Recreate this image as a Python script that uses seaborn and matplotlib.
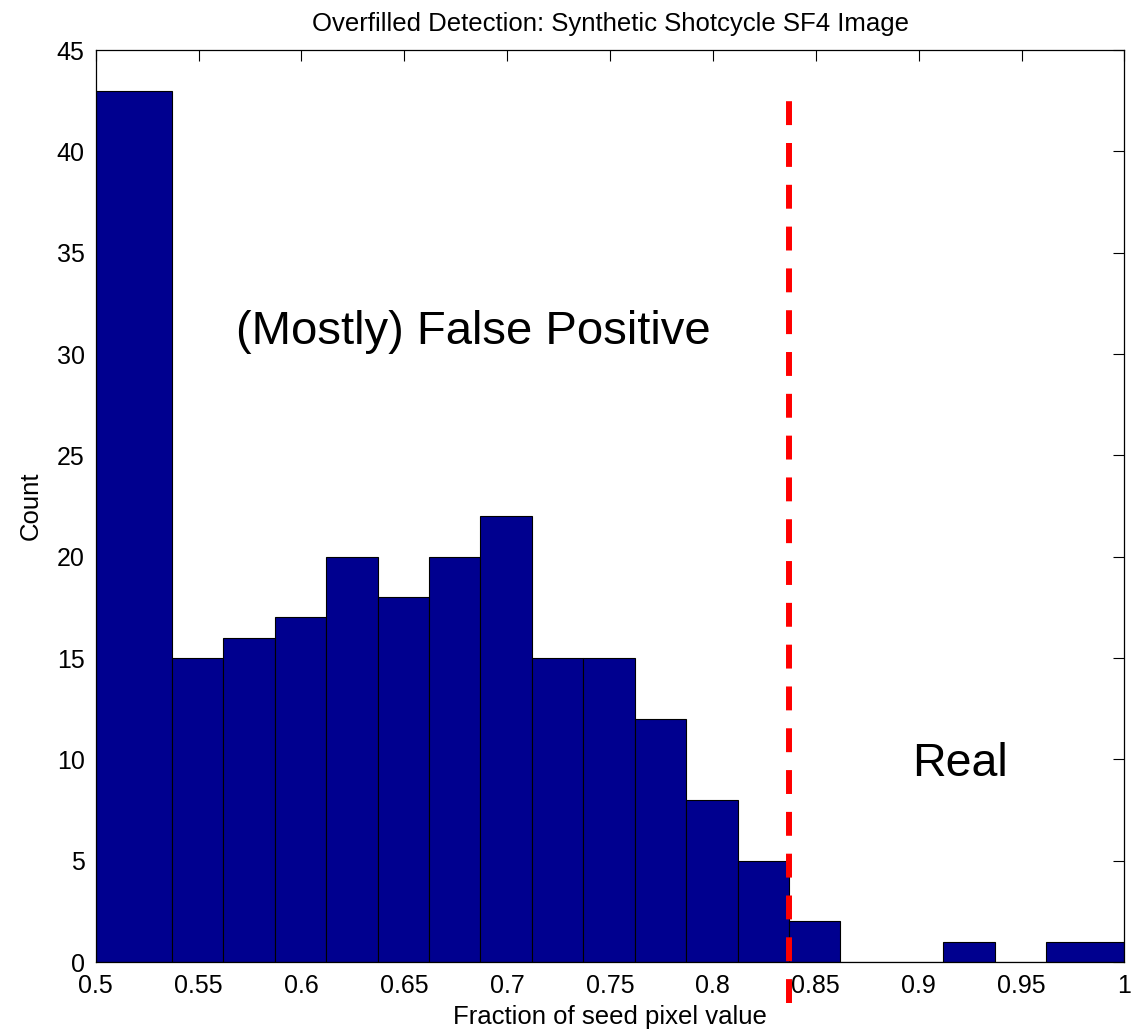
import numpy as np
import pandas as pd
import matplotlib
matplotlib.use("Agg")
import matplotlib.pyplot as plt
import seaborn as sns

# Histogram bin edges and counts (fraction of seed pixel value)
bin_edges = [0.5, 0.537, 0.562, 0.587, 0.612, 0.637, 0.662, 0.687, 0.712,
             0.737, 0.762, 0.787, 0.812, 0.837, 0.862, 0.887, 0.912, 0.937,
             0.962, 1.0]
counts = [43, 15, 16, 17, 20, 18, 20, 22, 15, 15, 12, 8, 5, 2, 0, 0, 1, 0, 1]

threshold = 0.837
threshold_span = [-2.0, 42.5]

x_ticks = [0.5, 0.55, 0.6, 0.65, 0.7, 0.75, 0.8, 0.85, 0.9, 0.95, 1.0]
x_tick_labels = ["0.5", "0.55", "0.6", "0.65", "0.7", "0.75", "0.8", "0.85",
                 "0.9", "0.95", "1"]
y_ticks = list(range(0, 50, 5))

title = "Overfilled Detection: Synthetic Shotcycle SF4 Image"
x_label = "Fraction of seed pixel value"
y_label = "Count"

sns.set_theme(style="white")
plt.rcParams["font.family"] = ["Liberation Sans", "DejaVu Sans"]
plt.rcParams["text.color"] = "black"
plt.rcParams["axes.labelcolor"] = "black"
plt.rcParams["xtick.color"] = "black"
plt.rcParams["ytick.color"] = "black"

centers = [(a + b) / 2 for a, b in zip(bin_edges[:-1], bin_edges[1:])]
df = pd.DataFrame({"value": centers, "count": counts})

fig = plt.figure(figsize=(11.39, 10.31), dpi=100)
ax = fig.add_axes([0.0840, 0.0669, 0.9032, 0.8846])

sns.histplot(data=df, x="value", weights="count", bins=bin_edges,
             color="#00008F", edgecolor="black", linewidth=0.8, alpha=1.0,
             ax=ax)

ax.plot([threshold, threshold], threshold_span, color="red", lw=4.3,
        dashes=(4, 3), clip_on=False, zorder=5)

ax.text(0.6833, 30.5, "(Mostly) False Positive", fontsize=34,
        ha="center", va="baseline")
ax.text(0.920, 9.2, "Real", fontsize=33.5, ha="center", va="baseline")

ax.set_xlim(0.5, 1.0)
ax.set_ylim(0, 45)
ax.set_xticks(x_ticks)
ax.set_xticklabels(x_tick_labels)
ax.set_yticks(y_ticks)

ax.tick_params(direction="in", length=8, width=0.8, top=True, right=True,
               labelsize=18, colors="black")
ax.tick_params(axis="x", pad=8.5)
ax.tick_params(axis="y", pad=8)
for s in ax.spines.values():
    s.set_color("black")
    s.set_linewidth(0.9)

ax.set_title(title, fontsize=18.5, pad=14)
ax.set_xlabel(x_label, fontsize=18.5, labelpad=5)
ax.set_ylabel(y_label, fontsize=18.5, labelpad=10)

fig.savefig("out.png", dpi=100)
